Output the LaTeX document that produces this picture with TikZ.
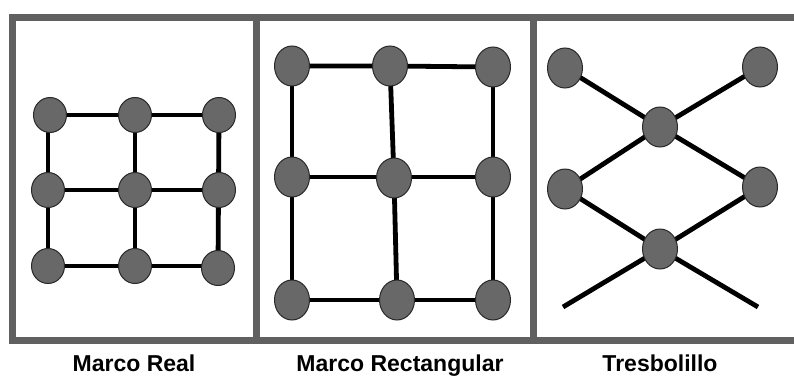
\documentclass[tikz,border=0pt]{standalone}
\usepackage{fontspec}
\setmainfont{Liberation Sans}
\usetikzlibrary{backgrounds,shapes.geometric}
\definecolor{framegray}{RGB}{96,96,96}
\definecolor{dotfill}{RGB}{104,104,104}
\definecolor{dotedge}{RGB}{40,40,40}
\tikzset{
  dotA/.style={ellipse,draw=dotedge,line width=1pt,fill=dotfill,minimum width=33pt,minimum height=35pt,inner sep=0pt},
  dotB/.style={ellipse,draw=dotedge,line width=1pt,fill=dotfill,minimum width=35pt,minimum height=40pt,inner sep=0pt},
  link/.style={line width=4.8pt,black},
  frame/.style={line width=7pt,framegray},
  caption/.style={anchor=base,font=\fontsize{23}{27}\selectfont\bfseries,text=black,inner sep=0pt}
}
\begin{document}
\begin{tikzpicture}[x=1pt,y=-1pt]
\useasboundingbox (0,0) rectangle (794,375);
% panel 1: Marco Real
\node[dotA] (a11) at (50,115) {};
\node[dotA] (a12) at (135,115) {};
\node[dotA] (a13) at (219,115) {};
\node[dotA] (a21) at (48,190) {};
\node[dotA] (a22) at (135,190) {};
\node[dotA] (a23) at (219,190) {};
\node[dotA] (a31) at (48,266) {};
\node[dotA] (a32) at (135,266) {};
\node[dotA] (a33) at (218,268) {};
% panel 2: Marco Rectangular
\node[dotB] (b11) at (292,66) {};
\node[dotB] (b12) at (390,66) {};
\node[dotB] (b13) at (493,67) {};
\node[dotB] (b21) at (292,177) {};
\node[dotB] (b22) at (394,178) {};
\node[dotB] (b23) at (493,177) {};
\node[dotB] (b31) at (292,300) {};
\node[dotB] (b32) at (397,300) {};
\node[dotB] (b33) at (493,300) {};
% panel 3: Tresbolillo
\node[dotB] (c1) at (565,68) {};
\node[dotB] (c2) at (760,67) {};
\node[dotB] (c3) at (660,127) {};
\node[dotB] (c4) at (565,189) {};
\node[dotB] (c5) at (760,187) {};
\node[dotB] (c6) at (660,249) {};
\coordinate (e1) at (563,307);
\coordinate (e2) at (758,307);
% captions
\node[caption] (t1) at (134,371) {Marco Real};
\node[caption] (t2) at (400,371) {Marco Rectangular};
\node[caption] (t3) at (660,371) {Tresbolillo};
\begin{scope}[on background layer]
\fill[white] (0,0) rectangle (794,375);
% frames
\draw[frame] (800,17.5) -- (12.5,17.5) -- (12.5,340.5) -- (800,340.5);
\draw[frame] (256.5,17.5) -- (256.5,340.5);
\draw[frame] (533,17.5) -- (533,340.5);
% grid 1
\draw[link] (a11.center) -- (a13.center);
\draw[link] (a21.center) -- (a23.center);
\draw[link] (a31.center) -- (a31.center -| a33.center);
\draw[link] (a21.center |- a11.center) -- (a31.center);
\draw[link] (a12.center) -- (a32.center);
\draw[link] (a13.center) -- (a33.center);
% grid 2
\draw[link] (b11.center) -- (b12.center) -- (b13.center);
\draw[link] (b21.center) -- (b23.center);
\draw[link] (b31.center) -- (b33.center);
\draw[link] (b11.center) -- (b31.center);
\draw[link] (b12.center) -- (b22.center) -- (b32.center);
\draw[link] (b13.center) -- (b33.center);
% tresbolillo
\draw[link] (c1.center) -- (c3.center) -- (c2.center);
\draw[link] (c4.center) -- (c3.center) -- (c5.center);
\draw[link] (c4.center) -- (c6.center) -- (c5.center);
\draw[link] (e1) -- (c6.center) -- (e2);
\end{scope}
\end{tikzpicture}
\end{document}
